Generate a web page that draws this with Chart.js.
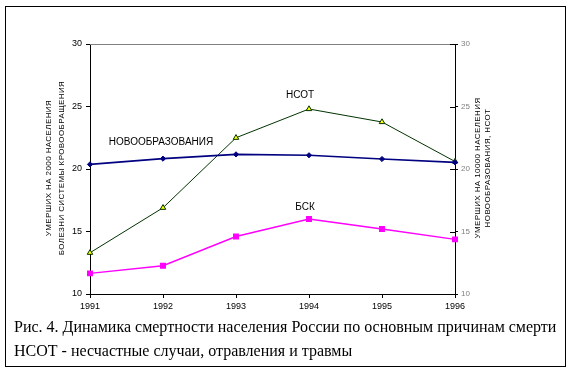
<!DOCTYPE html>
<html>
<head>
<meta charset="utf-8">
<script src="https://cdn.jsdelivr.net/npm/chart.js@4/dist/chart.umd.min.js"></script>
<style>
  body { margin: 0; background: #fff; }
  canvas { display: block; }
</style>
</head>
<body>
<canvas id="mortChart" width="574" height="372"></canvas>
<script>
// Data
const years = ["1991", "1992", "1993", "1994", "1995", "1996"];
const novoobr = [20.37, 20.83, 21.17, 21.1, 20.8, 20.53];   // на 10000
const nsot = [13.3, 16.9, 22.5, 24.8, 23.76, 20.6];          // на 10000
const bsk = [11.65, 12.26, 14.6, 16.0, 15.2, 14.37];         // на 2000
const yTicks = [10, 15, 20, 25, 30];

const leftTitle = ["УМЕРШИХ НА 2000 НАСЕЛЕНИЯ", "БОЛЕЗНИ СИСТЕМЫ КРОВООБРАЩЕНИЯ"];
const rightTitle = ["УМЕРШИХ НА 10000 НАСЕЛЕНИЯ", "НОВООБРАЗОВАНИЯ, НСОТ"];
const caption = [
  "Рис. 4. Динамика смертности населения России по основным причинам смерти",
  "НСОТ - несчастные случаи, отравления и травмы"
];

const sans = "'Liberation Sans', Arial, sans-serif";

// extra drawing: frame, titles, series names, caption
const decor = {
  id: "decor",
  afterDatasetsDraw(chart) {
    const c = chart.ctx;
    const a = chart.chartArea;
    c.save();
    // top border of plot area
    c.strokeStyle = "#808080";
    c.lineWidth = 1;
    c.beginPath();
    c.moveTo(a.left, a.top + 0.5);
    c.lineTo(a.right, a.top + 0.5);
    c.stroke();

    // inner ticks on right axis
    const yr = chart.scales.y1;
    c.strokeStyle = "#000";
    yTicks.forEach(v => {
      const py = Math.round(yr.getPixelForValue(v)) + 0.5;
      c.beginPath();
      c.moveTo(a.right - 5, py);
      c.lineTo(a.right, py);
      c.stroke();
    });

    // series labels
    c.fillStyle = "#000";
    c.font = "10px " + sans;
    c.textAlign = "center";
    c.textBaseline = "middle";
    c.fillText("НОВООБРАЗОВАНИЯ", 161, 142);
    c.fillText("НСОТ", 300, 95);
    c.fillText("БСК", 305, 207);
    c.restore();
  },
  afterDraw(chart) {
    const c = chart.ctx;
    const a = chart.chartArea;
    const cy = (a.top + a.bottom) / 2 - 1;
    c.save();
    c.fillStyle = "#000";
    c.font = "8px " + sans;
    c.textAlign = "center";
    c.textBaseline = "middle";
    c.letterSpacing = "0.4px";
    [[49, leftTitle[0]], [62, leftTitle[1]], [478, rightTitle[0]], [488, rightTitle[1]]].forEach(([x, t]) => {
      c.save();
      c.translate(x, cy);
      c.rotate(-Math.PI / 2);
      c.fillText(t, 0, 0);
      c.restore();
    });

    // caption
    c.letterSpacing = "0px";
    c.textAlign = "left";
    c.font = "16px 'Liberation Serif', 'Times New Roman', serif";
    c.fillText(caption[0], 14, 328);
    c.fillText(caption[1], 14, 352);

    // outer frame
    c.strokeStyle = "#000";
    c.lineWidth = 1;
    c.strokeRect(5.5, 6.5, 560, 360);
    c.restore();
  }
};

new Chart(document.getElementById("mortChart"), {
  type: "line",
  data: {
    labels: years,
    datasets: [
      {
        label: "НОВООБРАЗОВАНИЯ",
        data: novoobr,
        yAxisID: "y1",
        borderColor: "#000080",
        borderWidth: 1.6,
        pointStyle: "rectRot",
        pointRadius: 2.6,
        pointBackgroundColor: "#000080",
        pointBorderColor: "#000080",
        pointBorderWidth: 1,
        tension: 0
      },
      {
        label: "НСОТ",
        data: nsot,
        yAxisID: "y1",
        borderColor: "#003300",
        borderWidth: 1,
        pointStyle: "triangle",
        pointRadius: 3.2,
        pointBackgroundColor: "#ffff00",
        pointBorderColor: "#003300",
        pointBorderWidth: 1,
        tension: 0
      },
      {
        label: "БСК",
        data: bsk,
        yAxisID: "y",
        borderColor: "#ff00ff",
        borderWidth: 1.5,
        pointStyle: "rect",
        pointRadius: 4.2,
        pointBackgroundColor: "#ff00ff",
        pointBorderColor: "#ff00ff",
        pointBorderWidth: 0,
        tension: 0
      }
    ]
  },
  options: {
    responsive: false,
    animation: false,
    layout: { padding: { top: 44, left: 0, right: 0, bottom: 0 } },
    plugins: { legend: { display: false }, tooltip: { enabled: false } },
    scales: {
      x: {
        type: "category",
        offset: false,
        grid: { drawOnChartArea: false, drawTicks: true, tickLength: 4, color: "#000" },
        border: { display: true, color: "#000", width: 1 },
        ticks: { color: "#000", font: { family: sans, size: 9 }, padding: 3, maxRotation: 0 },
        afterFit(s) { s.height = 78; }
      },
      y: {
        position: "left",
        min: 10,
        max: 30,
        ticks: { stepSize: 5, color: "#000", font: { family: sans, size: 9 }, padding: 4 },
        grid: { drawOnChartArea: false, drawTicks: true, tickLength: 4, color: "#000" },
        border: { display: true, color: "#000", width: 1 },
        afterFit(s) { s.width = 90; }
      },
      y1: {
        position: "right",
        min: 10,
        max: 30,
        ticks: { stepSize: 5, color: "#808080", font: { family: sans, size: 8 }, padding: 3 },
        grid: { drawOnChartArea: false, drawTicks: true, tickLength: 3, color: "#000" },
        border: { display: true, color: "#000", width: 1 },
        afterFit(s) { s.width = 119; }
      }
    }
  },
  plugins: [decor]
});
</script>
</body>
</html>
